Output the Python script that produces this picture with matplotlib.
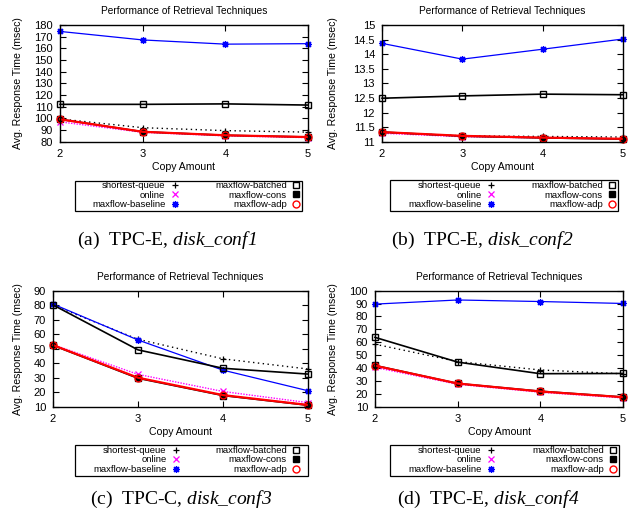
import matplotlib.pyplot as plt
from matplotlib.lines import Line2D
from matplotlib.patches import Rectangle
from matplotlib.ticker import FuncFormatter

plt.rcParams['font.family'] = 'Liberation Sans'
# mathtext only used for the italic part of the captions
plt.rcParams['mathtext.fontset'] = 'custom'
plt.rcParams['mathtext.rm'] = 'Liberation Serif:italic'
plt.rcParams['mathtext.it'] = 'Liberation Serif:italic'

# x values
copies = [2, 3, 4, 5]
names = ['shortest-queue', 'online', 'maxflow-baseline',
         'maxflow-batched', 'maxflow-cons', 'maxflow-adp']

# (a) TPC-E, disk_conf1
a_shortest = [99.5, 92, 89.5, 88.2]
a_online = [97, 88, 85, 83.5]
a_baseline = [174.5, 167.2, 163.6, 164]
a_batched = [112, 112, 112.4, 111.4]
a_cons = [99.2, 88.5, 85.5, 84]
a_adp = [99.2, 88.5, 85.5, 84]

# (b) TPC-E, disk_conf2
b_shortest = [11.32, 11.2, 11.18, 11.16]
b_online = [11.29, 11.17, 11.13, 11.1]
b_baseline = [14.37, 13.83, 14.17, 14.52]
b_batched = [12.49, 12.57, 12.63, 12.61]
b_cons = [11.33, 11.19, 11.13, 11.09]
b_adp = [11.33, 11.2, 11.14, 11.1]

# (c) TPC-C, disk_conf3
c_shortest = [80, 56.5, 43, 36]
c_online = [52.8, 32.3, 20.5, 12.8]
c_baseline = [80.8, 56, 35.2, 21]
c_batched = [80.2, 49.2, 36.5, 32.5]
c_cons = [52.3, 29.6, 17.7, 11]
c_adp = [52.5, 30, 18, 11.2]

# (d) TPC-E, disk_conf4
d_shortest = [58.5, 45, 38.5, 35.5]
d_online = [40.5, 27.4, 21.2, 16.8]
d_baseline = [89.6, 92.8, 91.6, 90.1]
d_batched = [63.8, 44.6, 35.6, 35.8]
d_cons = [42, 28, 22, 17.5]
d_adp = [41.8, 28, 21.8, 17.4]

captions = [r'(a)  TPC-E, $disk\_conf1$',
            r'(b)  TPC-E, $disk\_conf2$',
            r'(c)  TPC-C, $disk\_conf3$',
            r'(d)  TPC-E, $disk\_conf4$']

styles = [
    dict(color='black', ls=(0, (1, 2.5)), lw=1.0, marker='+', ms=5, mew=0.9),
    dict(color='#ff00ff', ls=(0, (1, 1)), lw=1.0, marker='x', ms=4, mew=0.9),
    dict(color='#0000ff', ls='-', lw=0.9, marker=(8, 2, 0), ms=5, mew=0.9),
    dict(color='black', ls='-', lw=1.2, marker='s', ms=5, mew=1.0, mfc='none'),
    dict(color='black', ls='-', lw=1.2, marker='s', ms=4, mew=1.0),
    dict(color='#ff0000', ls='-', lw=1.6, marker='o', ms=5, mew=1.0, mfc='none'),
]

W, H = 631, 513
fig = plt.figure(figsize=(W / 100, H / 100), dpi=100)


def fx(px):
    return px / W


def fy(py):
    return 1 - py / H


panels = [
    dict(box=(60, 25, 308, 141.7), ylim=(80, 180), yt=list(range(80, 181, 10)),
         data=[a_shortest, a_online, a_baseline, a_batched, a_cons, a_adp],
         ylab_x=18, leg_box=(75, 181, 302, 211), leg_in=(92, 180, 301, 210),
         cap=(167, 240)),
    dict(box=(382, 25, 623, 141.7), ylim=(11, 15), yt=[11, 11.5, 12, 12.5, 13, 13.5, 14, 14.5, 15],
         data=[b_shortest, b_online, b_baseline, b_batched, b_cons, b_adp],
         ylab_x=333, leg_box=(390, 180, 618, 211), leg_in=(408, 180, 617, 210),
         cap=(482, 240)),
    dict(box=(53, 290.7, 308, 406.7), ylim=(10, 90), yt=list(range(10, 91, 10)),
         data=[c_shortest, c_online, c_baseline, c_batched, c_cons, c_adp],
         ylab_x=18, leg_box=(75, 445, 308, 476), leg_in=(93, 445, 301, 475),
         cap=(181, 499)),
    dict(box=(375, 290.7, 623, 406.7), ylim=(10, 100), yt=list(range(10, 101, 10)),
         data=[d_shortest, d_online, d_baseline, d_batched, d_cons, d_adp],
         ylab_x=333, leg_box=(390, 445, 619, 476), leg_in=(408, 445, 618, 475),
         cap=(488, 499)),
]

fs = 7.3
for p in panels:
    l, t, r, b = p['box']
    ax = fig.add_axes([fx(l), fy(b), fx(r) - fx(l), fy(t) - fy(b)])
    for vals, st in zip(p['data'], styles):
        ax.plot(copies, vals, clip_on=False, **st)
    ax.set_xlim(2, 5)
    ax.set_ylim(*p['ylim'])
    ax.set_xticks(copies)
    ax.set_yticks(p['yt'])
    ax.yaxis.set_major_formatter(FuncFormatter(lambda v, pos: '%g' % v))
    ax.tick_params(direction='in', top=True, right=True, length=4, width=0.8,
                   labelsize=8, pad=5)
    for s in ax.spines.values():
        s.set_linewidth(1.0)
    ax.set_title('Performance of Retrieval Techniques', fontsize=fs, pad=8)
    ax.set_xlabel('Copy Amount', fontsize=7.6, va='center')
    ax.xaxis.set_label_coords(0.5, -25 / (b - t))
    ax.set_ylabel('Avg. Response Time (msec)', fontsize=7.6, va='center')
    ax.yaxis.set_label_coords((p['ylab_x'] - l) / (r - l), 0.5)

    # gnuplot style key: marker only, text right aligned
    handles = [Line2D([], [], ls='none', color=st['color'], marker=st['marker'],
                      ms=st['ms'], mew=st['mew'], mfc=st.get('mfc', st['color']))
               for st in styles]
    x0, y0, x1, y1 = p['leg_in']
    fig.legend(handles, names, ncol=2, mode='expand', loc='center',
               bbox_to_anchor=(fx(x0), fy(y1), fx(x1) - fx(x0), fy(y0) - fy(y1)),
               frameon=False, markerfirst=False, fontsize=6.8, labelspacing=0.05,
               handlelength=1.0, handletextpad=0.5, borderpad=0, borderaxespad=0)
    bx0, by0, bx1, by1 = p['leg_box']
    fig.add_artist(Rectangle((fx(bx0), fy(by1)), fx(bx1) - fx(bx0), fy(by0) - fy(by1),
                             transform=fig.transFigure, fill=False, lw=0.9, ec='black'))

for p, c in zip(panels, captions):
    cx, cy = p['cap']
    fig.text(fx(cx), fy(cy), c, ha='center', va='center', fontsize=14,
             family='Liberation Serif')

fig.savefig('out.png', dpi=100)
